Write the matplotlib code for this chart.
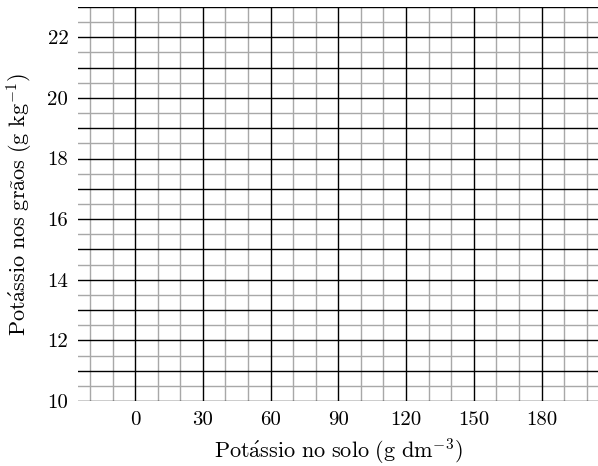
import matplotlib
matplotlib.use("Agg")
import matplotlib.pyplot as plt
import numpy as np

x_major = [0, 30, 60, 90, 120, 150, 180]
x_minor = list(range(-20, 201, 10))
y_major = [10, 11, 12, 13, 14, 15, 16, 17, 18, 19, 20, 21, 22, 23]
y_minor = [10.5 + i for i in range(13)]
y_labels = [10, 12, 14, 16, 18, 20, 22]

plt.rcParams['font.family'] = ['cmr10', 'DejaVu Serif']
plt.rcParams['mathtext.fontset'] = 'cm'
plt.rcParams['axes.unicode_minus'] = False

fs = 15
lfs = 16
fig = plt.figure(figsize=(5.98, 4.66), dpi=100)
ax = fig.add_axes([78/598, 1 - 401/466, 1 - 78/598, (401 - 7)/466])
ax.set_xlim(-25.3, 205)
ax.set_ylim(10, 23)

for v in x_minor:
    if v not in x_major:
        ax.axvline(v, color='#a8a8a8', lw=1.0, zorder=1)
for v in y_minor:
    ax.axhline(v, color='#a8a8a8', lw=1.0, zorder=1)
for v in x_major:
    ax.axvline(v, color='black', lw=1.0, zorder=2)
for v in y_major:
    ax.axhline(v, color='black', lw=1.0, zorder=2)

for s in ax.spines.values():
    s.set_visible(False)

ax.set_xticks(x_major)
ax.set_xticklabels([str(v) for v in x_major], fontsize=fs)
ax.set_yticks(y_labels)
ax.set_yticklabels([str(v) for v in y_labels], fontsize=fs)
ax.tick_params(length=0, pad=7)

ax.set_xlabel(r'$\mathrm{Pot\acute{a}ssio\ no\ solo\ (g\ dm^{-3})}$', fontsize=lfs, labelpad=6)
ax.set_ylabel(r'$\mathrm{Pot\acute{a}ssio\ nos\ gr\tilde{a}os\ (g\ kg^{-1})}$', fontsize=lfs, labelpad=9)

fig.savefig('out.png', dpi=100)
